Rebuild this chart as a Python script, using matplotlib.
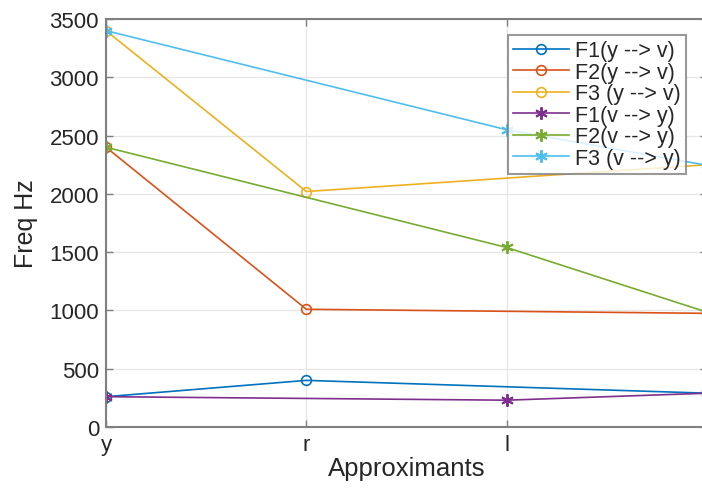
import matplotlib
matplotlib.use('Agg')
import matplotlib.pyplot as plt
import numpy as np

# categories on the x axis (the last one is cut off by the right edge)
approximants = ["y", "r", "l", "v"]

# y --> v series are measured at y, r and the last point
x_yv = [1, 2, 4]
f1_yv = [260, 400, 290]
f2_yv = [2400, 1010, 975]
f3_yv = [3400, 2020, 2250]

# v --> y series are measured at y, l and the last point
x_vy = [1, 3, 4]
f1_vy = [260, 230, 290]
f2_vy = [2400, 1540, 985]
f3_vy = [3400, 2550, 2245]

C = ["#0072BD", "#D95319", "#EDB120", "#7E2F8E", "#77AC30", "#4DBEEE"]
AX_COL = "#262626"
ASTER = (6, 2, 0)

plt.rcParams['font.family'] = ['Liberation Sans', 'DejaVu Sans']

fig = plt.figure(figsize=(7.02, 4.89), dpi=100)
fig.patch.set_facecolor("white")
ax = fig.add_axes([106 / 702, 1 - 428 / 489, 601 / 702, 408 / 489])

lw = 1.2
ax.plot(x_yv, f1_yv, "-o", color=C[0], lw=lw, ms=7, mfc="none", mew=1.2, label="F1(y --> v)")
ax.plot(x_yv, f2_yv, "-o", color=C[1], lw=lw, ms=7, mfc="none", mew=1.2, label="F2(y --> v)")
ax.plot(x_yv, f3_yv, "-o", color=C[2], lw=lw, ms=7, mfc="none", mew=1.2, label="F3 (y --> v)")
ax.plot(x_vy, f1_vy, "-", marker=ASTER, color=C[3], lw=lw, ms=9, mew=1.4, label="F1(v --> y)")
ax.plot(x_vy, f2_vy, "-", marker=ASTER, color=C[4], lw=lw, ms=9, mew=1.4, label="F2(v --> y)")
ax.plot(x_vy, f3_vy, "-", marker=ASTER, color=C[5], lw=lw, ms=9, mew=1.4, label="F3 (v --> y)")

ax.set_xlim(1, 4)
ax.set_ylim(0, 3500)
ax.set_xticks(range(1, len(approximants) + 1))
ax.set_xticklabels(approximants)
ax.set_yticks(np.arange(0, 3501, 500))
ax.grid(True, color="#e6e6e6", lw=0.9)
ax.set_axisbelow(True)

for s in ax.spines.values():
    s.set_color("#808080")
    s.set_linewidth(1.5)
ax.tick_params(direction="in", length=5, width=1, colors="#808080",
               labelcolor=AX_COL, labelsize=16, top=True, right=True, pad=5)

ax.set_xlabel("Approximants", fontsize=18.5, color=AX_COL, labelpad=1)
ax.set_ylabel("Freq Hz", fontsize=18, color=AX_COL, labelpad=8)

leg = ax.legend(loc="upper left", bbox_to_anchor=(508 / 702, 1 - 36 / 489),
                bbox_transform=fig.transFigure, fontsize=15.5, frameon=True,
                fancybox=False, borderpad=0.25, labelspacing=0.02,
                handlelength=2.6, handletextpad=0.25, borderaxespad=0)
leg.get_frame().set_edgecolor("#808080")
leg.get_frame().set_linewidth(1.5)
for t in leg.get_texts():
    t.set_color(AX_COL)

fig.savefig("out.png", dpi=100, facecolor="white")
